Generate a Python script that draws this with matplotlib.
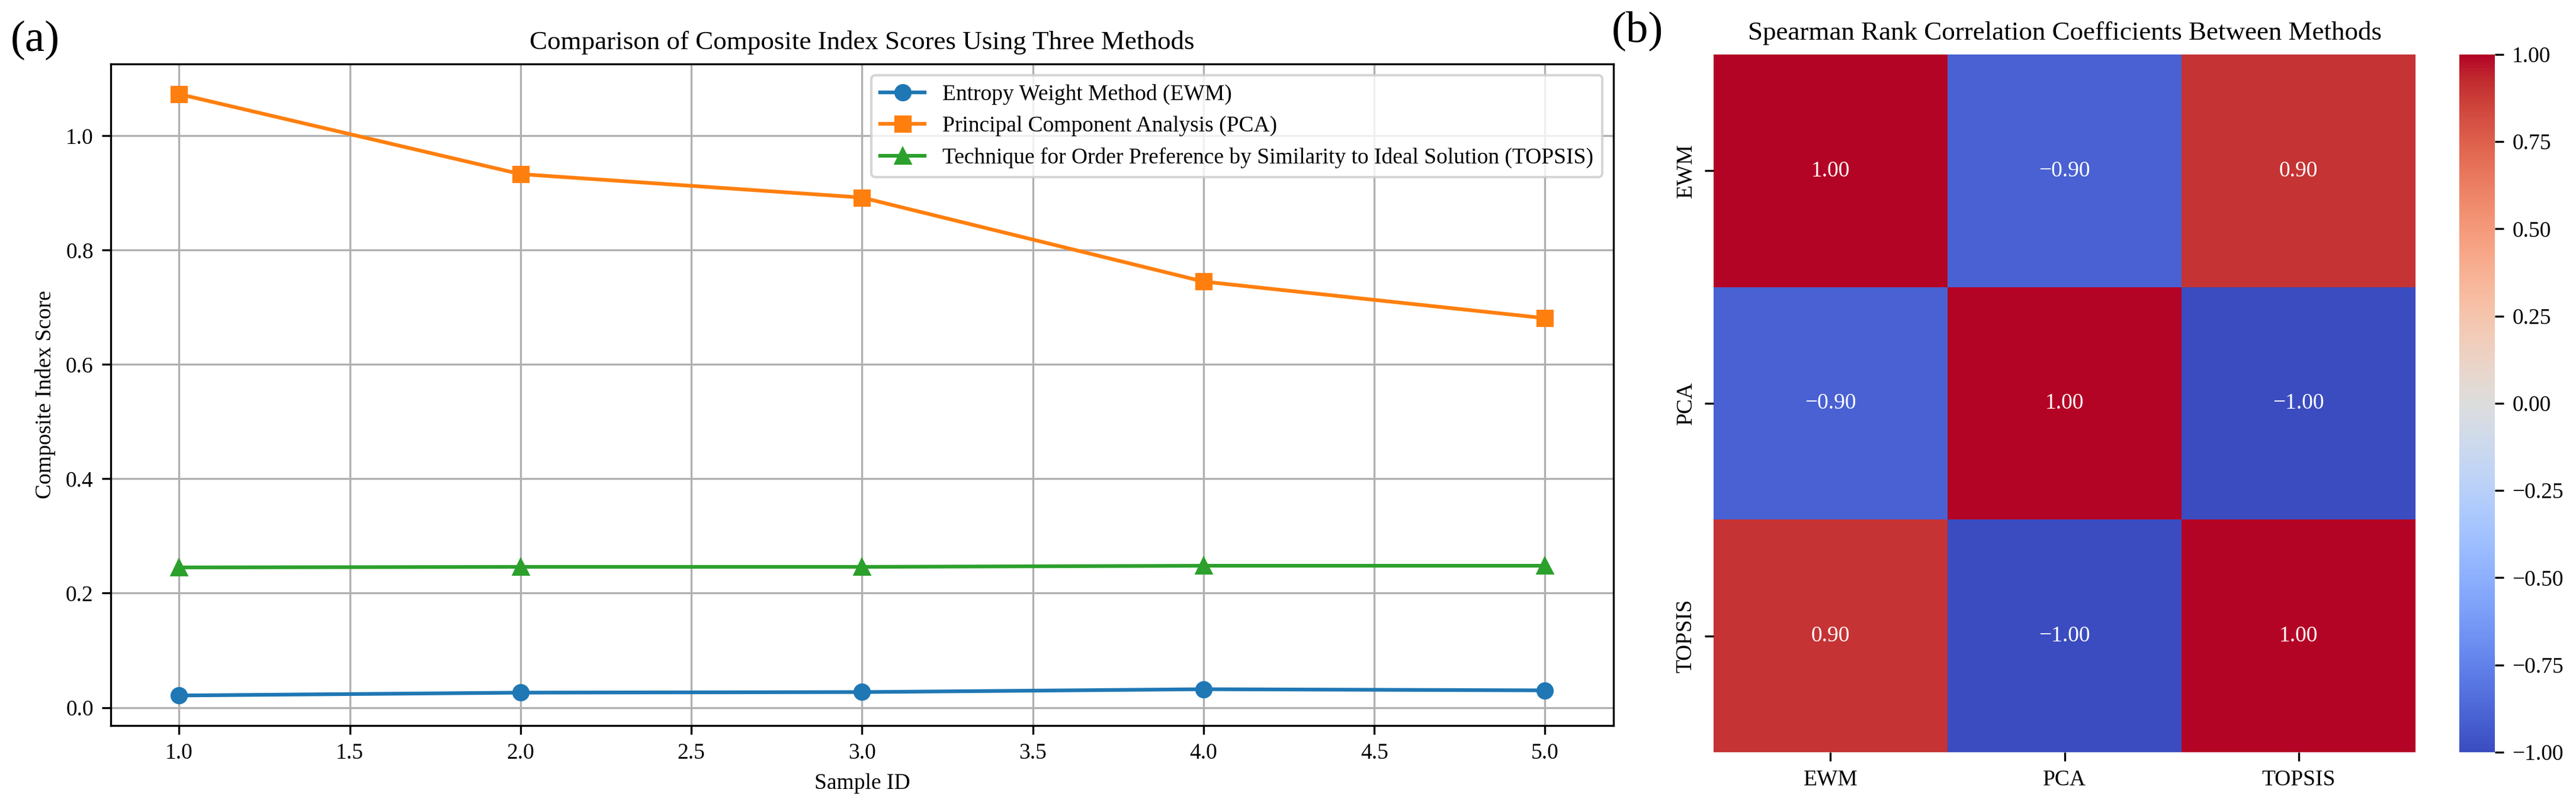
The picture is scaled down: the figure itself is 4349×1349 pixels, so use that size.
import numpy as np
import matplotlib
matplotlib.use("Agg")
import matplotlib.pyplot as plt

plt.rcParams['font.family'] = ['Liberation Serif', 'DejaVu Serif']
plt.rcParams['font.size'] = 9

# composite index scores per sample
sample_id = [1, 2, 3, 4, 5]
ewm = [0.021, 0.026, 0.027, 0.032, 0.030]
pca = [1.073, 0.933, 0.892, 0.745, 0.681]
topsis = [0.245, 0.246, 0.246, 0.248, 0.248]

# spearman rank correlation between methods
methods = ['EWM', 'PCA', 'TOPSIS']
corr = np.array([
    [1.00, -0.90, 0.90],
    [-0.90, 1.00, -1.00],
    [0.90, -1.00, 1.00],
])

fig = plt.figure(figsize=(4349 / 300, 1349 / 300), dpi=300)

# (a) line chart
ax1 = fig.add_axes([0.0430, 0.0919, 0.5833, 0.8280])
ax1.plot(sample_id, ewm, marker='o', label='Entropy Weight Method (EWM)')
ax1.plot(sample_id, pca, marker='s', label='Principal Component Analysis (PCA)')
ax1.plot(sample_id, topsis, marker='^',
         label='Technique for Order Preference by Similarity to Ideal Solution (TOPSIS)')
ax1.set_title('Comparison of Composite Index Scores Using Three Methods', fontsize=10.8)
ax1.set_xlabel('Sample ID')
ax1.set_ylabel('Composite Index Score')
ax1.grid(True)
ax1.legend(loc='upper right')

# (b) heatmap
ax2 = fig.add_axes([0.6652, 0.0586, 0.2725, 0.8732])
cax = fig.add_axes([0.9547, 0.0586, 0.0138, 0.8732])
mesh = ax2.pcolormesh(corr, cmap='coolwarm', vmin=-1, vmax=1)
ax2.set_xlim(0, 3)
ax2.set_ylim(3, 0)
for i in range(3):
    for j in range(3):
        ax2.text(j + 0.5, i + 0.5, f'{corr[i, j]:.2f}'.replace('-', '\u2212'),
                 ha='center', va='center', color='white', fontsize=9)
ax2.set_xticks(np.arange(3) + 0.5)
ax2.set_xticklabels(methods)
ax2.set_yticks(np.arange(3) + 0.5)
ax2.set_yticklabels(methods, rotation=90, va='center')
for s in ax2.spines.values():
    s.set_visible(False)
ax2.set_title('Spearman Rank Correlation Coefficients Between Methods', fontsize=10.8)

cb = fig.colorbar(mesh, cax=cax)
cb.outline.set_linewidth(0)
cb.set_ticks([-1, -0.75, -0.5, -0.25, 0, 0.25, 0.5, 0.75, 1])

fig.text(0.004, 0.949, '(a)', fontsize=18, va='center', ha='left')
fig.text(0.6257, 0.961, '(b)', fontsize=18, va='center', ha='left')

fig.savefig('out.png', dpi=300)
